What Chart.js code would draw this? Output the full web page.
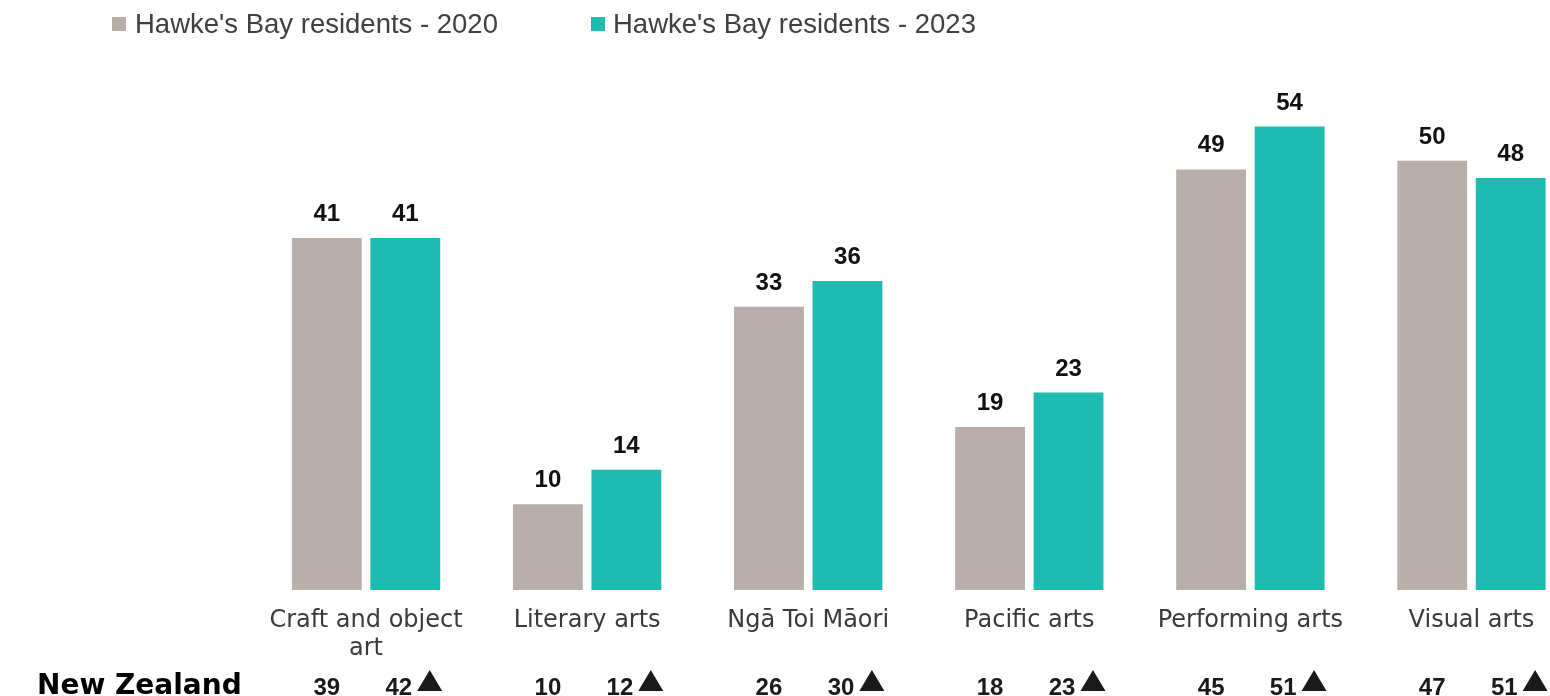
<!DOCTYPE html>
<html>
<head>
<meta charset="utf-8">
<script src="https://cdn.jsdelivr.net/npm/chart.js@4.4.1/dist/chart.umd.min.js"></script>
<style>
  html, body { margin: 0; padding: 0; background: #ffffff; overflow: hidden; }
  #wrap { position: relative; width: 1582px; height: 696px; }
</style>
</head>
<body>
<div id="wrap"><canvas id="c"></canvas></div>
<script>
const categories = [["Craft and object", "art"], "Literary arts", "Ngā Toi Māori", "Pacific arts", "Performing arts", "Visual arts"];
const seriesNames = ["Hawke's Bay residents - 2020", "Hawke's Bay residents - 2023"];
const hb2020 = [41, 10, 33, 19, 49, 50];
const hb2023 = [41, 14, 36, 23, 54, 48];
const nzLabel = "New Zealand";
const nz2020 = [39, 10, 26, 18, 45, 47];
const nz2023 = [42, 12, 30, 23, 51, 51];
const nzUp = [true, true, true, true, true, true];

const colors = ["#b8afaa", "#20bbb0"];

const valueLabels = {
  id: 'valueLabels',
  afterDatasetsDraw(chart) {
    const ctx = chart.ctx;
    ctx.save();
    ctx.font = "bold 24px 'Liberation Sans', Arial, sans-serif";
    ctx.fillStyle = "#111111";
    ctx.textAlign = "center";
    ctx.textBaseline = "alphabetic";
    chart.data.datasets.forEach((ds, di) => {
      const meta = chart.getDatasetMeta(di);
      meta.data.forEach((bar, i) => {
        ctx.fillText(String(ds.data[i]), bar.x, bar.y - 17);
      });
    });
    ctx.restore();
  }
};

const nzRow = {
  id: 'nzRow',
  afterDraw(chart) {
    const ctx = chart.ctx;
    ctx.save();
    ctx.fillStyle = "#000000";
    ctx.textBaseline = "alphabetic";
    ctx.font = "bold 28px 'DejaVu Sans', sans-serif";
    ctx.textAlign = "left";
    ctx.fillText(nzLabel, 37, 694);
    const m0 = chart.getDatasetMeta(0);
    const m1 = chart.getDatasetMeta(1);
    ctx.font = "bold 24px 'Liberation Sans', Arial, sans-serif";
    ctx.fillStyle = "#1a1a1a";
    nz2020.forEach((v, i) => {
      ctx.textAlign = "center";
      ctx.fillText(String(v), m0.data[i].x, 695);
    });
    nz2023.forEach((v, i) => {
      const b = m1.data[i];
      const right = b.x + b.width / 2 + 2;
      const triW = 25, triH = 21, base = 691;
      const triL = right - triW;
      if (nzUp[i]) {
        ctx.beginPath();
        ctx.moveTo(triL, base);
        ctx.lineTo(right, base);
        ctx.lineTo(triL + triW / 2, base - triH);
        ctx.closePath();
        ctx.fill();
      }
      ctx.textAlign = "right";
      ctx.fillText(String(v), triL - 5, 695);
    });
    ctx.restore();
  }
};

const legendPlugin = {
  id: 'customLegend',
  afterDraw(chart) {
    const ctx = chart.ctx;
    ctx.save();
    const pos = [{ box: 112, text: 135 }, { box: 591, text: 613 }];
    ctx.font = "27.5px 'Liberation Sans', Arial, sans-serif";
    ctx.textBaseline = "alphabetic";
    ctx.textAlign = "left";
    chart.data.datasets.forEach((ds, i) => {
      ctx.fillStyle = ds.backgroundColor;
      ctx.fillRect(pos[i].box, 17, 14, 14);
      ctx.fillStyle = "#404040";
      ctx.fillText(ds.label, pos[i].text, 33);
    });
    ctx.restore();
  }
};

new Chart(document.getElementById('c'), {
  type: 'bar',
  data: {
    labels: categories,
    datasets: [
      { label: seriesNames[0], data: hb2020, backgroundColor: colors[0] },
      { label: seriesNames[1], data: hb2023, backgroundColor: colors[1] }
    ]
  },
  options: {
    responsive: true,
    maintainAspectRatio: false,
    animation: false,
    events: [],
    layout: { padding: { left: 255.5, top: 75, right: 0, bottom: 0 } },
    datasets: { bar: { categoryPercentage: 0.71, barPercentage: 0.89 } },
    plugins: { legend: { display: false }, tooltip: { enabled: false }, title: { display: false } },
    scales: {
      y: { display: false, min: 0, max: 60 },
      x: {
        grid: { display: false, drawTicks: false },
        border: { display: false },
        ticks: {
          padding: 17,
          maxRotation: 0,
          autoSkip: false,
          color: "#3a3a3a",
          font: { family: "'DejaVu Sans', sans-serif", size: 24, lineHeight: 1.17 }
        },
        afterFit(scale) { scale.height = 106; }
      }
    }
  },
  plugins: [valueLabels, nzRow, legendPlugin]
});
</script>
</body>
</html>
